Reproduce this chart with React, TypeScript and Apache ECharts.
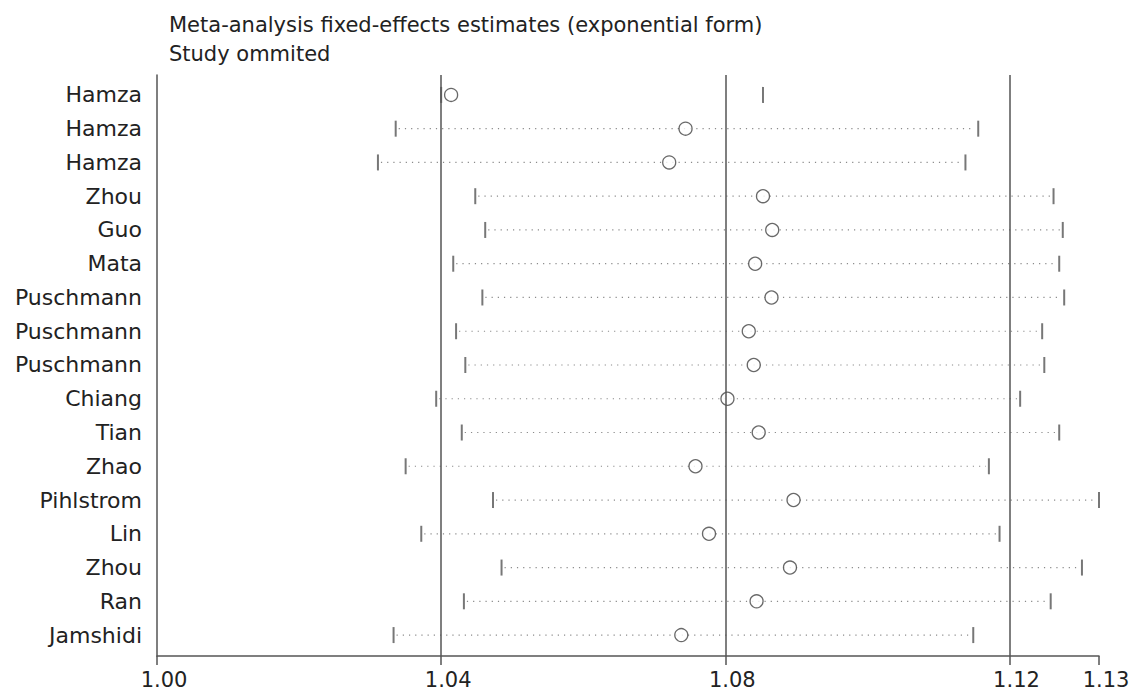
import React, { useEffect, useRef } from "react";
import * as echarts from "echarts";

const titleLines = [
  "Meta-analysis fixed-effects estimates (exponential form)",
  "Study ommited",
];

const studies = [
  "Hamza", "Hamza", "Hamza", "Zhou", "Guo", "Mata", "Puschmann", "Puschmann",
  "Puschmann", "Chiang", "Tian", "Zhao", "Pihlstrom", "Lin", "Zhou", "Ran", "Jamshidi",
];

const estimates = [
  1.0414, 1.0744, 1.0721, 1.0853, 1.0866, 1.0842, 1.0865, 1.0833,
  1.0840, 1.0803, 1.0847, 1.0758, 1.0896, 1.0777, 1.0891, 1.0844, 1.0738,
];

const lowerCI = [
  1.0400, 1.0336, 1.0311, 1.0448, 1.0462, 1.0417, 1.0458, 1.0421,
  1.0434, 1.0393, 1.0429, 1.0350, 1.0473, 1.0372, 1.0485, 1.0432, 1.0333,
];

const upperCI = [
  1.0853, 1.1156, 1.1138, 1.1262, 1.1275, 1.1270, 1.1277, 1.1246,
  1.1249, 1.1215, 1.1270, 1.1171, 1.1326, 1.1186, 1.1302, 1.1258, 1.1149,
];

const showDots = [
  false, true, true, true, true, true, true, true,
  true, true, true, true, true, true, true, true, true,
];

const xMin = 1.0;
const xMax = 1.1326;
const xTickValues = [1.0, 1.04, 1.08, 1.12, 1.1326];
const refLines = [1.04, 1.08, 1.12];

const FONT = "'DejaVu Sans', 'Liberation Sans', Arial, sans-serif";

export default function App() {
  const ref = useRef<HTMLDivElement>(null);

  useEffect(() => {
    if (!ref.current) return;
    const chart = echarts.init(ref.current, null, { renderer: "svg" });

    const rowIdx = studies.map((_, i) => i + 1);
    const ciData = studies
      .map((_, i) => [lowerCI[i], upperCI[i], i + 1])
      .filter((_, i) => showDots[i]);
    const capData: number[][] = [];
    studies.forEach((_, i) => {
      capData.push([lowerCI[i], i + 1]);
      capData.push([upperCI[i], i + 1]);
    });
    const estData = studies.map((_, i) => [estimates[i], i + 1]);

    chart.setOption({
      animation: false,
      backgroundColor: "#ffffff",
      title: {
        text: titleLines.join("\n"),
        left: 164,
        top: 6,
        textStyle: {
          fontFamily: FONT,
          fontSize: 21,
          fontWeight: "normal",
          color: "#222",
          lineHeight: 28.4,
        },
      },
      grid: { left: 157, top: 75, width: 942, height: 581, containLabel: false },
      xAxis: {
        type: "value",
        min: xMin,
        max: xMax,
        axisLine: { show: true, lineStyle: { color: "#555", width: 1.5 } },
        axisTick: {
          show: true,
          customValues: xTickValues,
          length: 9,
          lineStyle: { color: "#555", width: 1.5 },
        },
        axisLabel: {
          customValues: xTickValues,
          formatter: (v: number) => v.toFixed(2),
          fontFamily: FONT,
          fontSize: 21,
          color: "#222",
          margin: 13,
          padding: [0, 0, 0, 14],
        },
        splitLine: { show: false },
      },
      yAxis: {
        type: "value",
        inverse: true,
        min: 0.41,
        max: 17.62,
        axisLine: { show: true, lineStyle: { color: "#555", width: 1.5 } },
        axisTick: { show: false },
        splitLine: { show: false },
        axisLabel: {
          customValues: rowIdx,
          formatter: (v: number) => studies[Math.round(v) - 1] ?? "",
          fontFamily: FONT,
          fontSize: 22,
          color: "#222",
          margin: 15,
        },
      },
      series: [
        {
          type: "custom",
          name: "ci",
          data: ciData,
          encode: { x: [0, 1], y: 2 },
          renderItem: (params: any, api: any) => {
            const a = api.coord([api.value(0), api.value(2)]);
            const b = api.coord([api.value(1), api.value(2)]);
            return {
              type: "line",
              shape: { x1: a[0] + 3, y1: a[1], x2: b[0] - 3, y2: b[1] },
              style: { stroke: "#8a8a8a", lineWidth: 1.2, lineDash: [1.2, 5] },
            };
          },
          z: 1,
        },
        {
          type: "scatter",
          name: "caps",
          data: capData,
          symbol: "rect",
          symbolSize: [2, 16],
          itemStyle: { color: "#555" },
          z: 2,
          markLine: {
            silent: true,
            symbol: "none",
            label: { show: false },
            lineStyle: { color: "#555", width: 1.5, type: "solid" },
            data: refLines.map((v) => ({ xAxis: v })),
          },
        },
        {
          type: "scatter",
          name: "est",
          data: estData,
          symbol: "circle",
          symbolSize: 13,
          itemStyle: { color: "#ffffff", borderColor: "#444", borderWidth: 1.3 },
          z: 3,
        },
      ],
    });

    return () => chart.dispose();
  }, []);

  return (
    <div
      ref={ref}
      style={{ position: "fixed", left: 0, top: 0, width: 1136, height: 695, background: "#fff" }}
    />
  );
}
